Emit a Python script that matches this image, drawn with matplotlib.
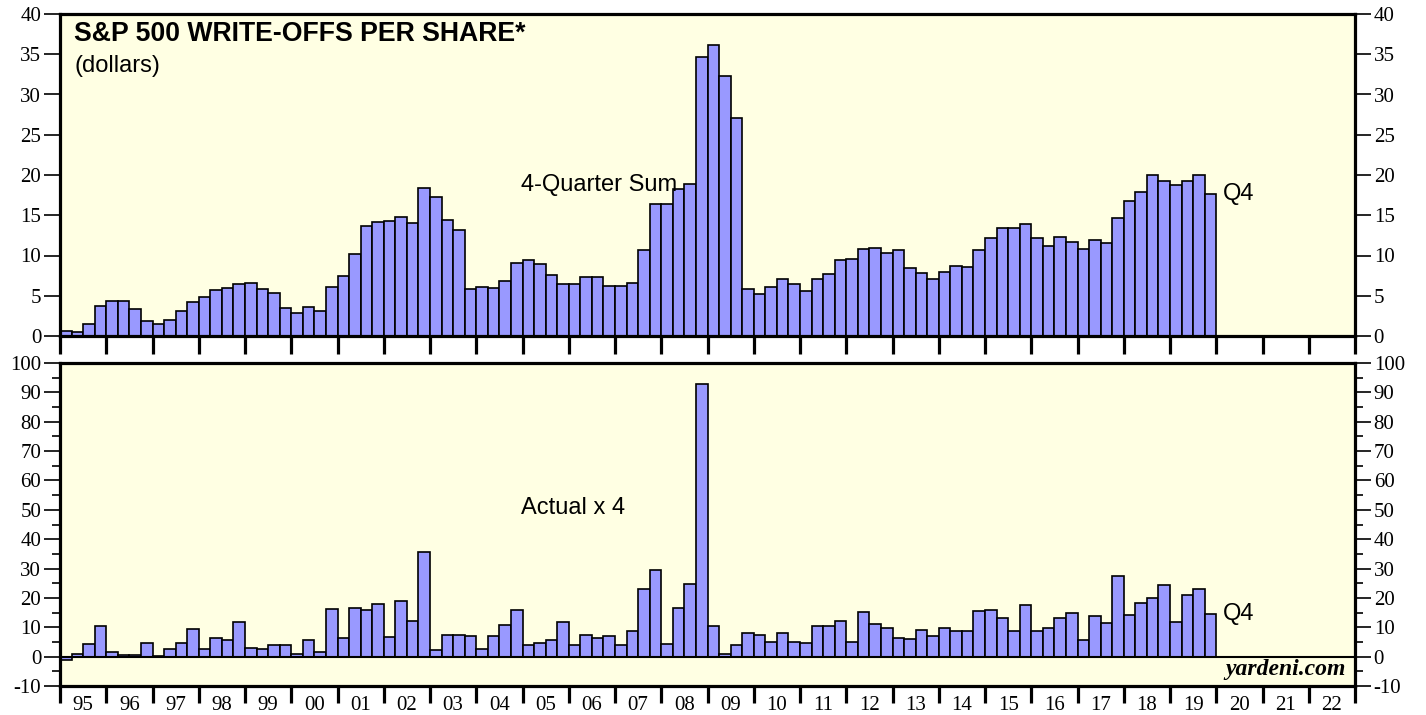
import numpy as np
import matplotlib
matplotlib.use("Agg")
import matplotlib.pyplot as plt
from matplotlib.ticker import FixedLocator, NullFormatter, FixedFormatter

plt.rcParams["axes.unicode_minus"] = False

# quarterly data, 1995 Q1 .. 2019 Q4
start_year = 1995
sum4q = [0.6, 0.5, 1.5, 3.7, 4.4, 4.3, 3.4, 1.9,
         1.5, 2.0, 3.1, 4.2, 4.8, 5.7, 6.0, 6.5,
         6.6, 5.8, 5.4, 3.5, 2.9, 3.6, 3.1, 6.1,
         7.4, 10.2, 13.7, 14.2, 14.3, 14.8, 14.0, 18.4,
         17.3, 14.4, 13.2, 5.9, 6.1, 6.0, 6.8, 9.1,
         9.5, 8.9, 7.6, 6.5, 6.5, 7.3, 7.3, 6.2,
         6.2, 6.6, 10.7, 16.4, 16.4, 18.3, 18.9, 34.6,
         36.2, 32.3, 27.1, 5.9, 5.2, 6.1, 7.1, 6.4,
         5.6, 7.1, 7.7, 9.5, 9.6, 10.8, 10.9, 10.3,
         10.7, 8.4, 7.8, 7.1, 8.0, 8.7, 8.6, 10.7,
         12.2, 13.4, 13.4, 13.9, 12.2, 11.2, 12.3, 11.7,
         10.8, 11.9, 11.5, 14.6, 16.8, 17.9, 20.0, 19.2,
         18.7, 19.3, 20.0, 17.7]
actual_x4 = [-1.0, 0.9, 4.2, 10.5, 1.7, 0.7, 0.5, 4.5,
             0.3, 2.6, 4.5, 9.3, 2.5, 6.2, 5.7, 11.7,
             3.1, 2.7, 4.1, 3.9, 0.8, 5.6, 1.7, 16.1,
             6.2, 16.7, 15.8, 17.8, 6.6, 19.1, 12.3, 35.8,
             2.3, 7.2, 7.3, 6.9, 2.6, 6.9, 10.7, 16.0,
             4.1, 4.5, 5.8, 11.7, 4.1, 7.3, 6.2, 6.9,
             4.1, 8.7, 22.9, 29.5, 4.2, 16.6, 24.9, 92.8,
             10.3, 1.0, 4.0, 7.9, 7.5, 4.9, 8.2, 5.1,
             4.5, 10.3, 10.5, 12.3, 4.9, 15.2, 11.1, 9.9,
             6.2, 5.9, 9.1, 7.1, 9.7, 8.8, 8.6, 15.7,
             16.0, 13.3, 8.9, 17.5, 8.9, 9.6, 13.1, 15.0,
             5.5, 13.9, 11.5, 27.5, 14.1, 18.4, 20.0, 24.3,
             11.9, 20.9, 23.2, 14.6]
year_labels = ["95", "96", "97", "98", "99", "00", "01", "02", "03", "04",
               "05", "06", "07", "08", "09", "10", "11", "12", "13", "14",
               "15", "16", "17", "18", "19", "20", "21", "22"]

x = start_year + np.arange(len(sum4q)) * 0.25
years = np.arange(start_year, start_year + len(year_labels) + 1)

bg = "#FFFFE3"
bar_col = "#9999FF"
serif = "Liberation Serif"
sans = "Liberation Sans"
tick_size = 15

fig = plt.figure(figsize=(14.26, 7.15), dpi=100)
ax1 = fig.add_axes([60/1426, 1-336/715, 1295/1426, 322/715])
ax2 = fig.add_axes([60/1426, 1-686/715, 1295/1426, 323/715])

for ax in (ax1, ax2):
    ax.set_facecolor(bg)
    ax.set_xlim(years[0], years[-1])
    for s in ax.spines.values():
        s.set_linewidth(2.3)
    ax.xaxis.set_major_locator(FixedLocator(years))
    ax.xaxis.set_major_formatter(NullFormatter())
    ax.tick_params(axis="y", which="both", left=True, right=True,
                   labelleft=True, labelright=True, direction="out",
                   width=1.2, labelsize=tick_size, pad=2)
    ax.tick_params(axis="y", which="major", length=11.5)
    ax.tick_params(axis="y", which="minor", length=5.5)

# top panel: 4-quarter sum
ax1.bar(x, sum4q, width=0.25, align="edge", color=bar_col,
        edgecolor="black", linewidth=1.2, zorder=2)
ax1.set_ylim(0, 40)
ax1.set_yticks(np.arange(0, 41, 5))
ax1.tick_params(axis="x", which="major", direction="out", length=13,
                width=2.3, top=False, bottom=True)
for lab in ax1.get_yticklabels():
    lab.set_family(serif)

ax1.text(0.011, 0.938, "S&P 500 WRITE-OFFS PER SHARE*", transform=ax1.transAxes,
         fontsize=19.2, fontweight="bold", family=sans, va="center", ha="left")
ax1.text(0.011, 0.84, "(dollars)", transform=ax1.transAxes,
         fontsize=17, family=sans, va="center", ha="left")
ax1.text(2004.97, 18.7, "4-Quarter Sum", fontsize=17, family=sans,
         va="center", ha="left", zorder=3)
ax1.text(2020.15, 17.7, "Q4", fontsize=17, family=sans, va="center", ha="left")

# bottom panel: actual x 4
ax2.bar(x, actual_x4, width=0.25, align="edge", color=bar_col,
        edgecolor="black", linewidth=1.2, zorder=2)
ax2.axhline(0, color="black", linewidth=1.5, zorder=3)
ax2.set_ylim(-10, 100)
ax2.set_yticks(np.arange(-10, 101, 10))
ax2.set_yticks(np.arange(-5, 100, 10), minor=True)
ax2.tick_params(axis="x", which="major", direction="out", length=12.5,
                width=2.3, top=False, bottom=True)
ax2.xaxis.set_minor_locator(FixedLocator(years[:-1] + 0.5))
ax2.xaxis.set_minor_formatter(FixedFormatter(year_labels))
ax2.tick_params(axis="x", which="minor", length=0, pad=7, labelsize=tick_size)
for lab in ax2.get_yticklabels() + ax2.get_xticklabels(minor=True):
    lab.set_family(serif)

ax2.text(2004.97, 50.5, "Actual x 4", fontsize=17, family=sans,
         va="center", ha="left")
ax2.text(2020.15, 14.5, "Q4", fontsize=17, family=sans, va="center", ha="left")
ax2.text(0.9925, 0.05, "yardeni.com", transform=ax2.transAxes, fontsize=17,
         family=serif, fontweight="bold", fontstyle="italic",
         ha="right", va="center")

fig.savefig("out.png", dpi=100, facecolor="white")
